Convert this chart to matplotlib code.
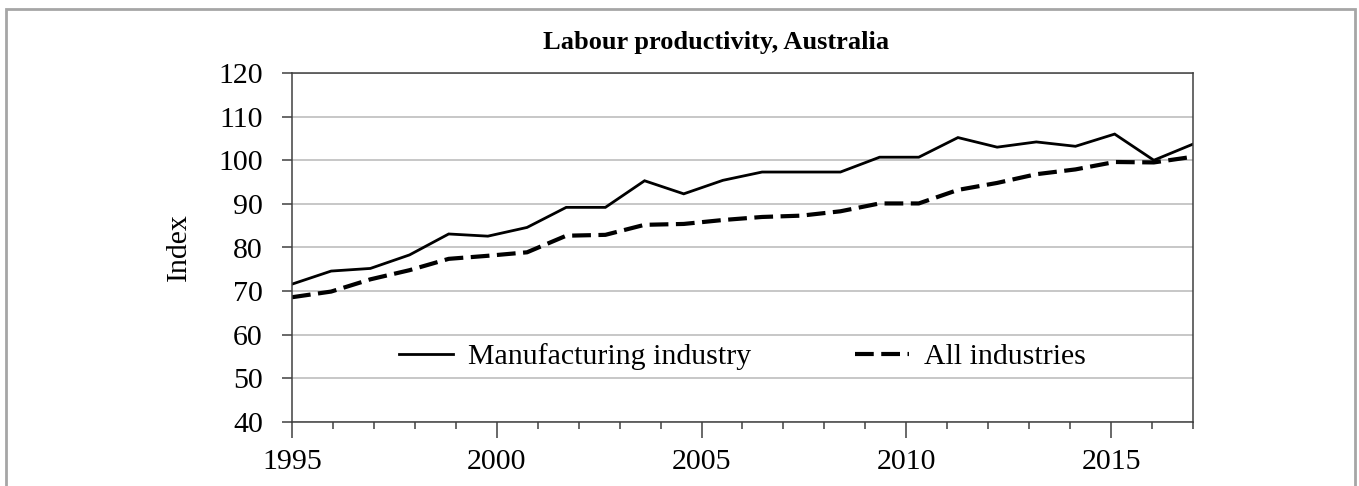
import numpy as np
import matplotlib
matplotlib.use("Agg")
import matplotlib.pyplot as plt
import matplotlib.patches as patches
from matplotlib.ticker import MultipleLocator

# Data: 24 annual observations spread evenly from 1995 to 2017
manufacturing = [71.6, 74.6, 75.2, 78.3, 83.1, 82.6, 84.6, 89.2, 89.2, 95.3, 92.3, 95.4,
                 97.3, 97.3, 97.3, 100.7, 100.7, 105.2, 103.0, 104.2, 103.2, 106.0, 100.0, 103.7]
all_industries = [68.6, 69.9, 72.7, 74.8, 77.4, 78.1, 78.9, 82.7, 82.9, 85.2, 85.4, 86.3,
                  87.0, 87.3, 88.3, 90.1, 90.1, 93.2, 94.8, 96.8, 97.9, 99.6, 99.5, 100.8]
year_first, year_last = 1995, 2017
label_years = [1995, 2000, 2005, 2010, 2015]

plt.rcParams['font.family'] = ['Liberation Serif', 'DejaVu Serif']
fs = 21.5

fig = plt.figure(figsize=(13.59, 4.86), dpi=100)
ax = fig.add_axes([292/1359, 1 - 422/486, (1193-292)/1359, (422-73)/486])

# points are evenly spaced between the first and last year
n = len(manufacturing)
x = year_first + np.arange(n) * (year_last - year_first) / (n - 1)

ax.plot(x, manufacturing, color='black', linewidth=2.0, label='Manufacturing industry',
        solid_joinstyle='miter')
ax.plot(x, all_industries, color='black', linewidth=3.0, linestyle=(0, (4.5, 1.8)),
        dash_capstyle='butt', label='All industries')

ax.set_xlim(year_first, year_last)
ax.set_ylim(40, 120)
ax.set_yticks(range(40, 121, 10))
ax.set_xticks(label_years)
ax.xaxis.set_minor_locator(MultipleLocator(1))
ax.grid(axis='y', color='#b8b8b8', linewidth=1.1)
ax.set_axisbelow(True)

for s in ax.spines.values():
    s.set_color('#404040')
    s.set_linewidth(1.1)

ax.tick_params(axis='y', which='major', direction='out', length=7, width=1.1,
               color='#404040', labelsize=fs, pad=14)
ax.tick_params(axis='x', which='major', direction='out', length=11.5, width=1.1,
               color='#404040', labelsize=fs, pad=8)
ax.tick_params(axis='x', which='minor', direction='out', length=5, width=1.1,
               color='#404040')

ax.set_ylabel('Index', fontsize=fs)
ax.yaxis.set_label_coords(-0.111, 0.5)

fig.text(0.527, 1 - 42/486, 'Labour productivity, Australia', ha='center', va='center',
         fontsize=19, fontweight='bold')

ax.legend(loc='center', bbox_to_anchor=(0.5, (357 - 73) / (422 - 73) * -1 + 1),
          ncol=2, frameon=False, fontsize=fs, handlelength=1.8, handletextpad=0.5,
          columnspacing=3.5, borderaxespad=0)

# grey frame around the whole picture
fig.patches.append(patches.Rectangle((6/1359, -0.05), 1349/1359, 1.05 - 9/486,
                                     transform=fig.transFigure, fill=False,
                                     edgecolor='#a6a6a6', linewidth=2))

fig.savefig('out.png', dpi=100)
